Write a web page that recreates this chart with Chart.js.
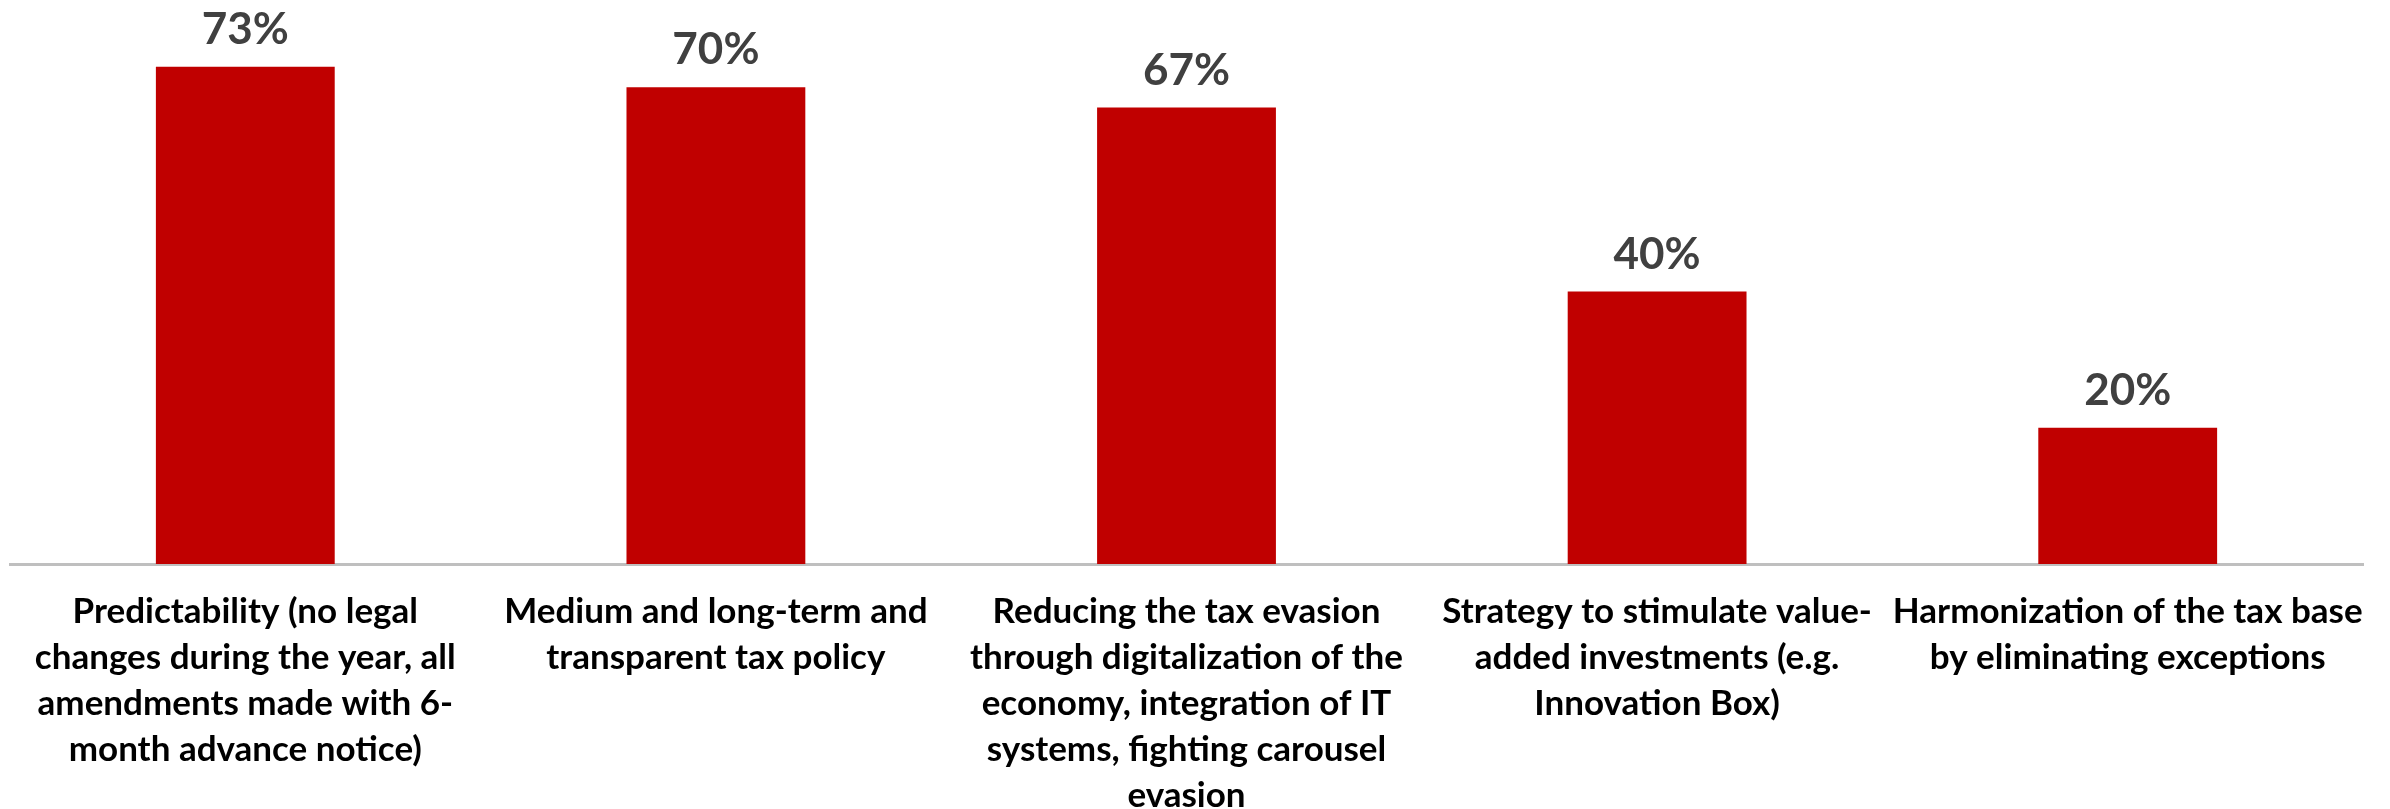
<!DOCTYPE html>
<html>
<head>
<meta charset="utf-8">
<script src="https://cdn.jsdelivr.net/npm/chart.js@4.4.1/dist/chart.umd.min.js"></script>
<style>
  html, body { margin: 0; padding: 0; background: #fff; }
  #wrap { width: 2390px; height: 809px; }
</style>
</head>
<body>
<div id="wrap"><canvas id="grafico" width="2390" height="809"></canvas></div>
<script>
// categorias (quebradas em linhas como no eixo)
const categorias = [
    ["Predictability (no legal", "changes during the year, all", "amendments made with 6-", "month advance notice)"],
    ["Medium and long-term and", "transparent tax policy"],
    ["Reducing the tax evasion", "through digitalization of the", "economy, integration of IT", "systems, fighting carousel", "evasion"],
    ["Strategy to stimulate value-", "added investments (e.g.", "Innovation Box)"],
    ["Harmonization of the tax base", "by eliminating exceptions"]
];
const valores = [73, 70, 67, 40, 20]; // em %
const eixoMax = 80;

const COR_BARRA = '#C00000';
const FONTE = 'Lato, "Open Sans", sans-serif';

// rótulos de valor acima das barras
const rotulosValor = {
    id: 'rotulosValor',
    afterDatasetsDraw(chart) {
        const ctx = chart.ctx;
        const meta = chart.getDatasetMeta(0);
        ctx.save();
        ctx.font = 'bold 44px ' + FONTE;
        ctx.fillStyle = '#404040';
        ctx.textAlign = 'center';
        ctx.textBaseline = 'alphabetic';
        meta.data.forEach((barra, i) => {
            ctx.fillText(valores[i] + '%', barra.x, barra.y - 23);
        });
        ctx.restore();
    }
};

new Chart(document.getElementById('grafico'), {
    type: 'bar',
    data: {
        labels: categorias,
        datasets: [{
            data: valores,
            backgroundColor: COR_BARRA,
            borderWidth: 0,
            barPercentage: 0.76,
            categoryPercentage: 0.5
        }]
    },
    options: {
        responsive: false,
        animation: false,
        layout: { padding: { left: 10, right: 24, top: 19, bottom: 0 } },
        plugins: {
            legend: { display: false },
            tooltip: { enabled: false }
        },
        scales: {
            x: {
                grid: { display: false, drawTicks: false },
                border: { display: true, color: '#BFBFBF', width: 3 },
                ticks: {
                    color: '#000',
                    padding: 25,
                    maxRotation: 0,
                    autoSkip: false,
                    font: { family: FONTE, weight: 'bold', size: 35, lineHeight: 1.31 }
                },
                afterFit(scale) { scale.height = 245; }
            },
            y: {
                display: false,
                min: 0,
                max: eixoMax
            }
        }
    },
    plugins: [rotulosValor]
});
</script>
</body>
</html>
